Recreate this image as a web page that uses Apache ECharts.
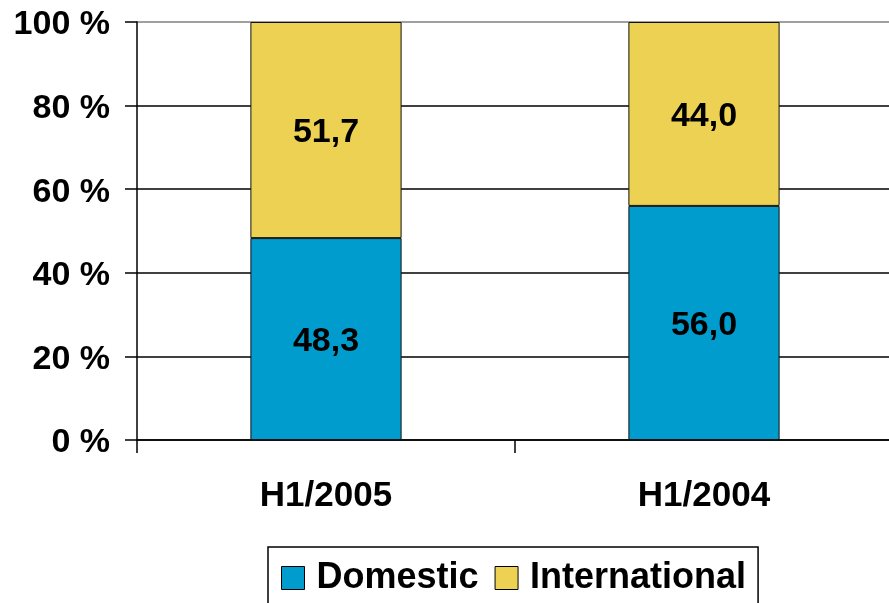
<!DOCTYPE html>
<html>
<head>
<meta charset="utf-8">
<style>
  html, body { margin: 0; padding: 0; background: #fff; }
  #chart { width: 889px; height: 603px; }
</style>
<script src="https://cdn.jsdelivr.net/npm/echarts@6/dist/echarts.min.js"></script>
</head>
<body>
<div id="chart"></div>
<script>
// Passenger split by half-year, in percent
const periods = ['H1/2005', 'H1/2004'];
const domestic = [48.3, 56.0];
const international = [51.7, 44.0];
const seriesNames = ['Domestic', 'International'];
const yTicks = [0, 20, 40, 60, 80, 100];

const FONT = '"Liberation Sans", Arial, sans-serif';
const fmtComma = v => v.toFixed(1).replace('.', ',');

const chart = echarts.init(document.getElementById('chart'), null, { renderer: 'canvas' });

const barLabel = {
  show: true,
  position: 'inside',
  offset: [0, 3],
  color: '#000',
  fontFamily: FONT,
  fontWeight: 'bold',
  fontSize: 34,
  formatter: p => fmtComma(p.value)
};

chart.setOption({
  animation: false,
  backgroundColor: '#fff',
  // plot area runs slightly past the right edge of the canvas
  grid: {
    left: 137, width: 756, top: 22, bottom: 163,
    containLabel: false,
    outerBoundsMode: 'none'
  },
  legend: {
    data: seriesNames,
    left: 268,
    top: 547,
    orient: 'horizontal',
    icon: 'rect',
    itemWidth: 23,
    itemHeight: 23,
    itemGap: 16,
    padding: [11, 12, 20, 13],
    borderColor: '#000',
    borderWidth: 1.5,
    itemStyle: { borderColor: '#000', borderWidth: 1 },
    textStyle: {
      color: '#000',
      fontFamily: FONT,
      fontWeight: 'bold',
      fontSize: 36,
      lineHeight: 40,
      padding: [0, 0, 0, 7]
    }
  },
  xAxis: {
    type: 'category',
    data: periods,
    boundaryGap: true,
    axisLine: { show: true, lineStyle: { color: '#000', width: 1.5 } },
    axisTick: { show: true, length: 13, alignWithLabel: false, lineStyle: { color: '#000', width: 1.5 } },
    axisLabel: {
      color: '#000',
      fontFamily: FONT,
      fontWeight: 'bold',
      fontSize: 35,
      margin: 39
    },
    splitLine: { show: false }
  },
  yAxis: {
    type: 'value',
    min: yTicks[0],
    max: yTicks[yTicks.length - 1],
    interval: 20,
    axisLine: { show: true, lineStyle: { color: '#000', width: 1.5 } },
    axisTick: { show: true, length: 12, inside: false, lineStyle: { color: '#000', width: 1.5 } },
    axisLabel: {
      color: '#000',
      fontFamily: FONT,
      fontWeight: 'bold',
      fontSize: 34,
      margin: 27,
      formatter: v => '{t|' + v + ' %}',
      rich: {
        t: {
          color: '#000',
          fontFamily: FONT,
          fontWeight: 'bold',
          fontSize: 34,
          padding: [6, 0, 0, 0]
        }
      }
    },
    splitLine: {
      show: true,
      lineStyle: {
        color: ['#000', '#000', '#000', '#000', '#000', '#808080'],
        width: 1.5
      }
    }
  },
  series: [
    {
      name: seriesNames[0],
      type: 'bar',
      stack: 'share',
      barWidth: '40%',
      data: domestic,
      itemStyle: { color: '#009CCE', borderColor: '#111', borderWidth: 1 },
      label: barLabel
    },
    {
      name: seriesNames[1],
      type: 'bar',
      stack: 'share',
      barWidth: '40%',
      data: international,
      itemStyle: { color: '#EDD152', borderColor: '#111', borderWidth: 1 },
      label: barLabel
    }
  ]
});
</script>
</body>
</html>
